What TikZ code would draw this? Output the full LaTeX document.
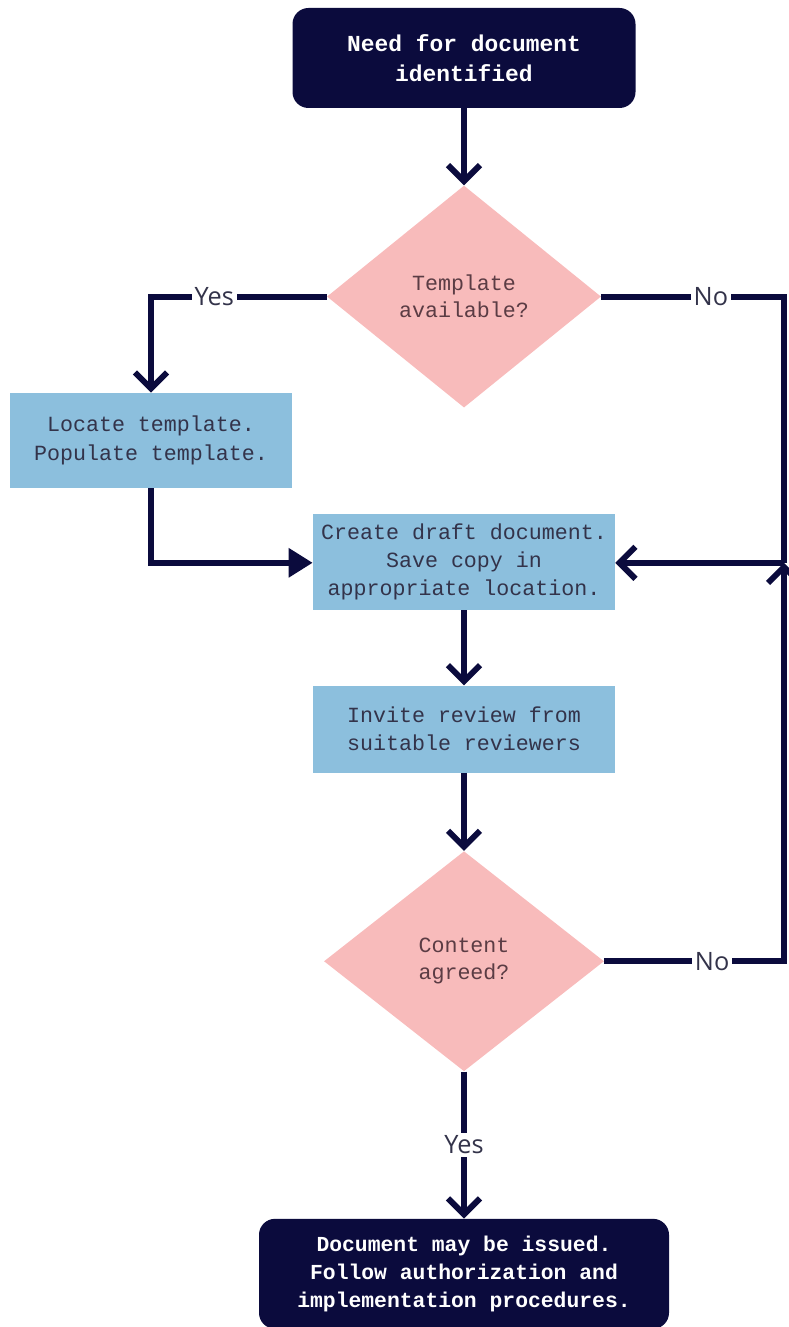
\documentclass[tikz,border=0pt]{standalone}
\usepackage{fontspec}
\setmonofont{Liberation Mono}
\setsansfont{Open Sans}
\usepackage{tikz}
\usetikzlibrary{arrows.meta,positioning,shapes.geometric}

\definecolor{navy}{HTML}{0B0B3D}
\definecolor{rose}{HTML}{F8BBBB}
\definecolor{sky}{HTML}{8CBFDD}
\definecolor{inkgray}{HTML}{33334A}
\definecolor{inkrose}{HTML}{5B3C44}

\begin{document}
\begin{tikzpicture}[
  every node/.style={align=center},
  terminal/.style={rectangle, fill=navy, text=white, rounded corners=0.4cm,
    font=\ttfamily\bfseries\fontsize{16.3}{21}\selectfont},
  process/.style={rectangle, fill=sky, text=inkgray,
    font=\ttfamily\fontsize{15.4}{20}\selectfont},
  decision/.style={diamond, fill=rose, text=inkrose, inner sep=0pt,
    font=\ttfamily\fontsize{15.4}{19}\selectfont},
  answer/.style={fill=white, inner sep=2pt, text=inkgray,
    font=\sffamily\fontsize{18}{20}\selectfont},
  line/.style={draw=navy, line width=4.2pt},
  arrow/.style={line, -{Straight Barb[length=4mm, width=8mm]}},
  filled/.style={line, -{Triangle[length=6mm, width=7mm]}}
]

\useasboundingbox (0,0) rectangle (19.725,-33.175);

% --- MAIN COLUMN ---
\node[terminal, minimum width=8.575cm, minimum height=2.5cm] (start) at (11.6,-1.45)
  {Need for document\\identified};

\node[decision, minimum width=6.85cm, minimum height=5.55cm, below=1.925cm of start] (tmpl)
  {Template\\available?};

\node[process, minimum width=7.55cm, minimum height=2.4cm, below=2.65cm of tmpl] (draft)
  {Create draft document.\\Save copy in\\appropriate location.};

\node[process, minimum width=7.55cm, minimum height=2.175cm, below=1.875cm of draft] (invite)
  {Invite review from\\suitable reviewers};

\node[decision, minimum width=7cm, minimum height=5.5cm, below=1.95cm of invite] (content)
  {Content\\agreed?};

\node[terminal, minimum width=10.25cm, minimum height=2.75cm, below=3.675cm of content,
  font=\ttfamily\bfseries\fontsize{15.2}{20}\selectfont] (issue)
  {Document may be issued.\\Follow authorization and\\implementation procedures.};

% --- SIDE BRANCH ---
\node[process, minimum width=7.05cm, minimum height=2.375cm] (locate) at (3.775,-11.01)
  {Locate template.\\Populate template.};

\coordinate (join) at (19.6,-14.07);

% --- CONNECTORS ---
\draw[arrow] (start) -- (tmpl);

\draw[arrow] (tmpl.west) -| (locate.north)
  node[answer, pos=0.32] {Yes};

\draw[line] (tmpl.east) -| (join)
  node[answer, pos=0.3] {No};

\draw[filled] (locate.south) |- (draft.west |- join);

\draw[arrow] (join) -- (draft.east |- join);

\draw[arrow] (draft) -- (invite);
\draw[arrow] (invite) -- (content);

\draw[arrow] (content.east) -| (join)
  node[answer, pos=0.3] {No};

\draw[arrow] (content) -- (issue)
  node[answer, midway] {Yes};

\end{tikzpicture}
\end{document}
